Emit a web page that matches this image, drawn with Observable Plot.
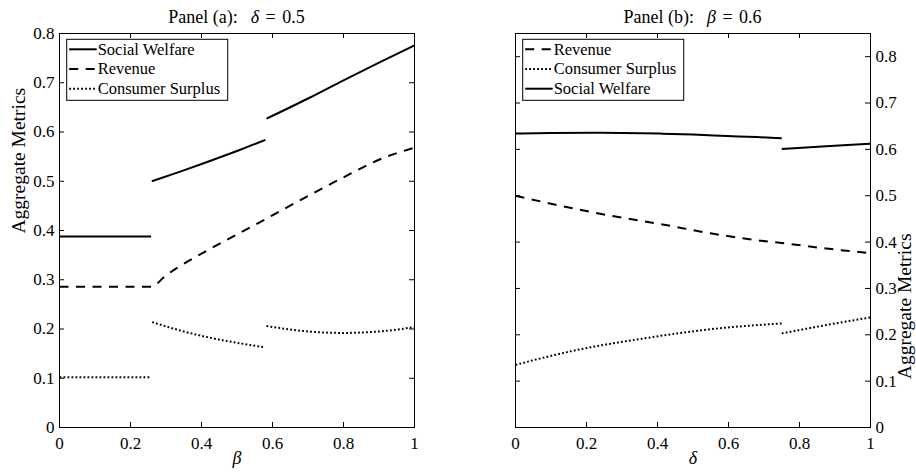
<!DOCTYPE html>
<html><head><meta charset="utf-8">
<script src="https://cdn.jsdelivr.net/npm/d3@7"></script>
<script src="https://cdn.jsdelivr.net/npm/@observablehq/plot@0.6"></script>
<style>
body{margin:0;background:#fff;}
#fig{display:flex;width:916px;height:472px;overflow:hidden;}
svg{display:block;}
</style></head><body><div id="fig"></div>
<script>
// ---------- Panel (a): delta = 0.5, x = beta ----------
const xTicks = [0, 0.2, 0.4, 0.6, 0.8, 1];
const yTicks = [0, 0.1, 0.2, 0.3, 0.4, 0.5, 0.6, 0.7, 0.8];

const aSW1x = [0, 0.258];
const aSW1y = [0.388, 0.388];
const aSW2x = [0.26, 0.34, 0.416, 0.5, 0.58];
const aSW2y = [0.5, 0.5196, 0.539, 0.5615, 0.584];
const aSW3x = [0.583, 0.7, 0.8, 0.9, 1];
const aSW3y = [0.627, 0.668, 0.705, 0.741, 0.776];

const aRevx = [0, 0.258, 0.30, 0.425, 0.547, 0.669, 0.792, 0.918, 1];
const aRevy = [0.286, 0.286, 0.309, 0.363, 0.410, 0.458, 0.505, 0.549, 0.568];

const aCS1x = [0, 0.258];
const aCS1y = [0.102, 0.102];
const aCS2x = [0.261, 0.34, 0.416, 0.5, 0.577];
const aCS2y = [0.214, 0.197, 0.1835, 0.172, 0.163];
const aCS3x = [0.583, 0.65, 0.7, 0.75, 0.8, 0.85, 0.9, 0.95, 1];
const aCS3y = [0.206, 0.199, 0.195, 0.1928, 0.192, 0.1928, 0.195, 0.1988, 0.204];

// ---------- Panel (b): beta = 0.6, x = delta ----------
const bSW1x = [0, 0.1, 0.22, 0.3, 0.408, 0.5, 0.596, 0.68, 0.75];
const bSW1y = [0.634, 0.6355, 0.636, 0.6355, 0.634, 0.632, 0.629, 0.6265, 0.624];
const bSW2x = [0.75, 0.875, 1];
const bSW2y = [0.601, 0.607, 0.612];

const bRevx = [0, 0.126, 0.267, 0.408, 0.549, 0.69, 0.75, 0.876, 1];
const bRevy = [0.5, 0.4785, 0.457, 0.439, 0.419, 0.403, 0.398, 0.386, 0.376];

const bCS1x = [0, 0.086, 0.172, 0.36, 0.549, 0.75];
const bCS1y = [0.135, 0.152, 0.167, 0.192, 0.212, 0.2245];
const bCS2x = [0.75, 0.875, 1];
const bCS2y = [0.203, 0.221, 0.2375];

const legendA = ["Social Welfare", "Revenue", "Consumer Surplus"];
const legendB = ["Revenue", "Consumer Surplus", "Social Welfare"];

const FONT = "'Liberation Serif', 'Times New Roman', serif";
const STY = {
  "Social Welfare": {dash: null},
  "Revenue": {dash: "9,7.5"},
  "Consumer Surplus": {dash: "1.8,2.2"}
};

function rows(xs, ys, series, seg) {
  return xs.map((x, i) => ({x, y: ys[i], series, seg: series + seg}));
}

const dataA = [
  ...rows(aSW1x, aSW1y, "Social Welfare", 1), ...rows(aSW2x, aSW2y, "Social Welfare", 2), ...rows(aSW3x, aSW3y, "Social Welfare", 3),
  ...rows(aRevx, aRevy, "Revenue", 1),
  ...rows(aCS1x, aCS1y, "Consumer Surplus", 1), ...rows(aCS2x, aCS2y, "Consumer Surplus", 2), ...rows(aCS3x, aCS3y, "Consumer Surplus", 3)
];
const dataB = [
  ...rows(bSW1x, bSW1y, "Social Welfare", 1), ...rows(bSW2x, bSW2y, "Social Welfare", 2),
  ...rows(bRevx, bRevy, "Revenue", 1),
  ...rows(bCS1x, bCS1y, "Consumer Surplus", 1), ...rows(bCS2x, bCS2y, "Consumer Surplus", 2)
];

const fmt = d3.format("~g");

function panel({width, marginLeft, marginRight, yDomain, data, yAnchor, xLabel, title, legend}) {
  const marginTop = 33, marginBottom = 45, height = 472;
  const W = width - marginLeft - marginRight, H = height - marginTop - marginBottom;
  const lineMarks = Object.keys(STY).map(s => Plot.line(data.filter(d => d.series === s), {
    x: "x", y: "y", z: "seg", curve: "monotone-x",
    stroke: "black", strokeWidth: 2,
    strokeDasharray: STY[s].dash, strokeLinecap: "butt"
  }));
  const svg = Plot.plot({
    width, height, marginLeft, marginRight, marginTop, marginBottom,
    style: {fontFamily: FONT, fontSize: "17px", color: "black", background: "white"},
    x: {domain: [0, 1]},
    y: {domain: yDomain},
    marks: [
      ...lineMarks,
      Plot.frame({stroke: "black", strokeWidth: 1}),
      Plot.tickX(xTicks, {x: d => d, insetTop: H - 5, stroke: "black"}),
      Plot.tickX(xTicks, {x: d => d, insetBottom: H - 5, stroke: "black"}),
      Plot.tickY(yTicks, {y: d => d, insetRight: W - 5, stroke: "black"}),
      Plot.tickY(yTicks, {y: d => d, insetLeft: W - 5, stroke: "black"}),
      Plot.axisX({ticks: xTicks, tickSize: 0, tickPadding: 9, tickFormat: fmt, label: null}),
      Plot.axisY({anchor: yAnchor, ticks: yTicks, tickSize: 0, tickPadding: 5, tickFormat: fmt, label: null}),
      Plot.text([xLabel], {text: d => d, frameAnchor: "bottom", dy: 36, fontStyle: "italic", fontSize: 18}),
      Plot.text(["Aggregate Metrics"], {text: d => d, frameAnchor: yAnchor, rotate: -90,
        dx: yAnchor === "left" ? -41 : 34, dy: 3, fontSize: 19.5})
    ]
  });
  const s = d3.select(svg);
  // title
  const t = s.append("text").attr("x", marginLeft + W / 2).attr("y", 23)
    .attr("text-anchor", "middle").style("font-family", FONT).attr("font-size", 18).attr("fill", "black");
  t.append("tspan").text(title[0]);
  t.append("tspan").attr("dx", 13).attr("font-style", "italic").text(title[1]);
  t.append("tspan").attr("dx", 6.5).text("=");
  t.append("tspan").attr("dx", 6.5).text(title[2]);
  // legend
  const lx = marginLeft + 7.7, ly = 39.3;
  const g = s.append("g");
  g.append("rect").attr("x", lx).attr("y", ly).attr("width", 161).attr("height", 61)
    .attr("fill", "white").attr("stroke", "black").attr("stroke-width", 1);
  legend.forEach((name, i) => {
    const cy = ly + 10 + i * 19.7;
    g.append("line").attr("x1", lx + 2.5).attr("x2", lx + 30).attr("y1", cy).attr("y2", cy)
      .attr("stroke", "black").attr("stroke-width", 2)
      .attr("stroke-dasharray", STY[name].dash);
    g.append("text").attr("x", lx + 31).attr("y", cy).attr("dy", "0.33em")
      .attr("text-anchor", "start")
      .style("font-family", FONT).attr("font-size", 16.5).attr("fill", "black").text(name);
  });
  return svg;
}

const fig = document.getElementById("fig");
fig.appendChild(panel({width: 456, marginLeft: 59, marginRight: 42, yDomain: [0, 0.8], data: dataA,
  yAnchor: "left", xLabel: "β", title: ["Panel (a):", "δ", "0.5"], legend: legendA}));
fig.appendChild(panel({width: 460, marginLeft: 59, marginRight: 46, yDomain: [0, 0.85], data: dataB,
  yAnchor: "right", xLabel: "δ", title: ["Panel (b):", "β", "0.6"], legend: legendB}));
</script></body></html>
